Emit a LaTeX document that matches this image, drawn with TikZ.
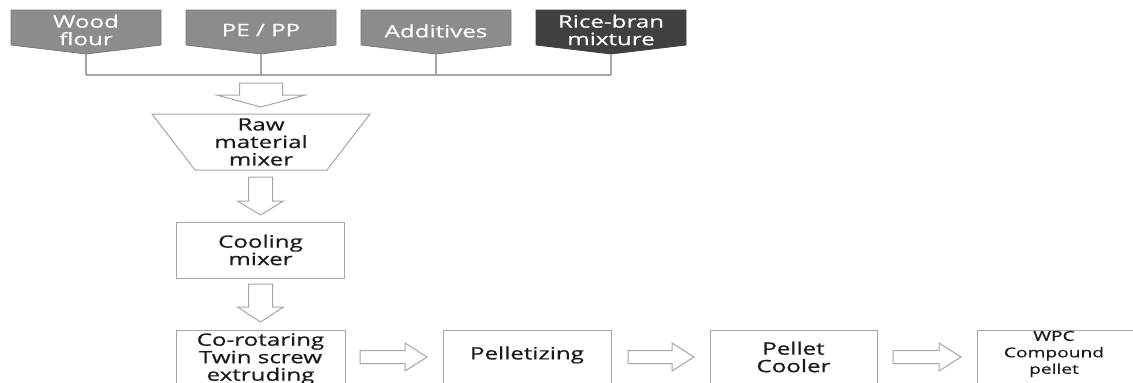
\documentclass[tikz,border=0pt]{standalone}
\usepackage{fontspec}
\setmainfont{Open Sans}[FakeStretch=1.42,FakeBold=0.6]
\definecolor{boxgray}{HTML}{8C8C8C}
\definecolor{boxgrayb}{HTML}{7A7A7A}
\definecolor{boxdark}{HTML}{404040}
\definecolor{linegray}{HTML}{A6A6A6}
\definecolor{txt}{HTML}{1A1A1A}
\tikzset{
  toptext/.style={text=white, align=center, inner sep=0pt, font=\fontsize{17}{17.5}\selectfont},
  boxtext/.style={text=txt, align=center, inner sep=0pt, font=\fontsize{17}{17.5}\selectfont},
  smalltext/.style={text=txt, align=center, inner sep=0pt, font=\fontsize{13.5}{16.5}\selectfont},
  procbox/.style={draw=linegray, line width=1pt, fill=white, minimum width=168pt, minimum height=56pt, inner sep=0pt},
  conn/.style={draw=linegray, line width=1.2pt},
  hollow/.style={draw=linegray, line width=1pt, fill=white, line join=miter},
}
\newcommand\topboxshape[3]{%
  \filldraw[fill=#2, draw=#3, line width=0.8pt] (#1-75,10) -- (#1+75,10) -- (#1+75,45) -- (#1,54) -- (#1-75,45) -- cycle;}
\newcommand\vhollow[6]{%
  \draw[hollow] (#1-#5,#2) -- (#1+#5,#2) -- (#1+#5,#3) -- (#1+#6,#3) -- (#1,#4) -- (#1-#6,#3) -- (#1-#5,#3) -- cycle;}
\newcommand\hhollow[6]{%
  \draw[hollow] (#2,#1-#5) -- (#3,#1-#5) -- (#3,#1-#6) -- (#4,#1) -- (#3,#1+#6) -- (#3,#1+#5) -- (#2,#1+#5) -- cycle;}
\begin{document}
\begin{tikzpicture}[x=1pt,y=-1pt]
\useasboundingbox (0,0) rectangle (1133,383);
\clip (0,0) rectangle (1133,383);
\fill[white] (0,0) rectangle (1133,383);

% top input boxes
\topboxshape{86}{boxgray}{boxgrayb}
\topboxshape{261}{boxgray}{boxgrayb}
\topboxshape{436}{boxgray}{boxgrayb}
\topboxshape{611}{boxdark}{boxdark}
\node[toptext] (wood) at (86,30) {Wood\\flour};
\node[toptext] (pepp) at (261,30) {PE / PP};
\node[toptext] (addi) at (436,31) {Additives};
\node[toptext] (rice) at (611,30) {Rice-bran\\mixture};
\coordinate (woodtip) at (86,54);
\coordinate (pepptip) at (261,54);
\coordinate (additip) at (436,54);
\coordinate (ricetip) at (611,54);
\coordinate (busL) at (86,75);
\coordinate (busR) at (611,75);

% connectors into bus
\draw[conn] (woodtip) -- (woodtip |- busL);
\draw[conn] (pepptip) -- (pepptip |- busL);
\draw[conn] (additip) -- (additip |- busL);
\draw[conn] (ricetip) -- (ricetip |- busR);
\draw[conn] (busL) -- (busR);

% big hollow arrow down
\vhollow{261}{83}{95}{107}{21.5}{44.5}

% raw material mixer trapezoid
\draw[draw=linegray, line width=1pt, fill=white] (152,114) -- (370,114) -- (327,170) -- (195,170) -- cycle;
\node[boxtext] (raw) at (261,142) {Raw\\material\\mixer};

\vhollow{260.5}{177}{201}{215}{12}{23}

\node[procbox] (cool) at (260.5,250) {};
\node[boxtext] (coolt) at (cool.center) {Cooling\\mixer};

\vhollow{260.5}{284}{307}{322}{12}{23}

% bottom row
\node[procbox, minimum width=169pt] (extr) at (260.5,358) {};
\node[boxtext] (extrt) at (260.5,359) {Co-rotaring\\Twin screw\\extruding};
\node[procbox] (pell) at (527,358) {};
\node[boxtext] (pellt) at (527,355) {Pelletizing};
\node[procbox, minimum width=167pt] (cooler) at (793.5,358) {};
\node[boxtext] (coolert) at (793.5,357) {Pellet\\Cooler};
\node[procbox] (wpc) at (1061,358) {};
\node[smalltext] (wpct) at (1054,354) {WPC\\Compound\\pellet};

\hhollow{357}{360}{405}{427}{6.5}{14}
\hhollow{357}{628}{672}{694}{6.5}{14}
\hhollow{357}{893}{939}{961}{6.5}{14}
\end{tikzpicture}
\end{document}
